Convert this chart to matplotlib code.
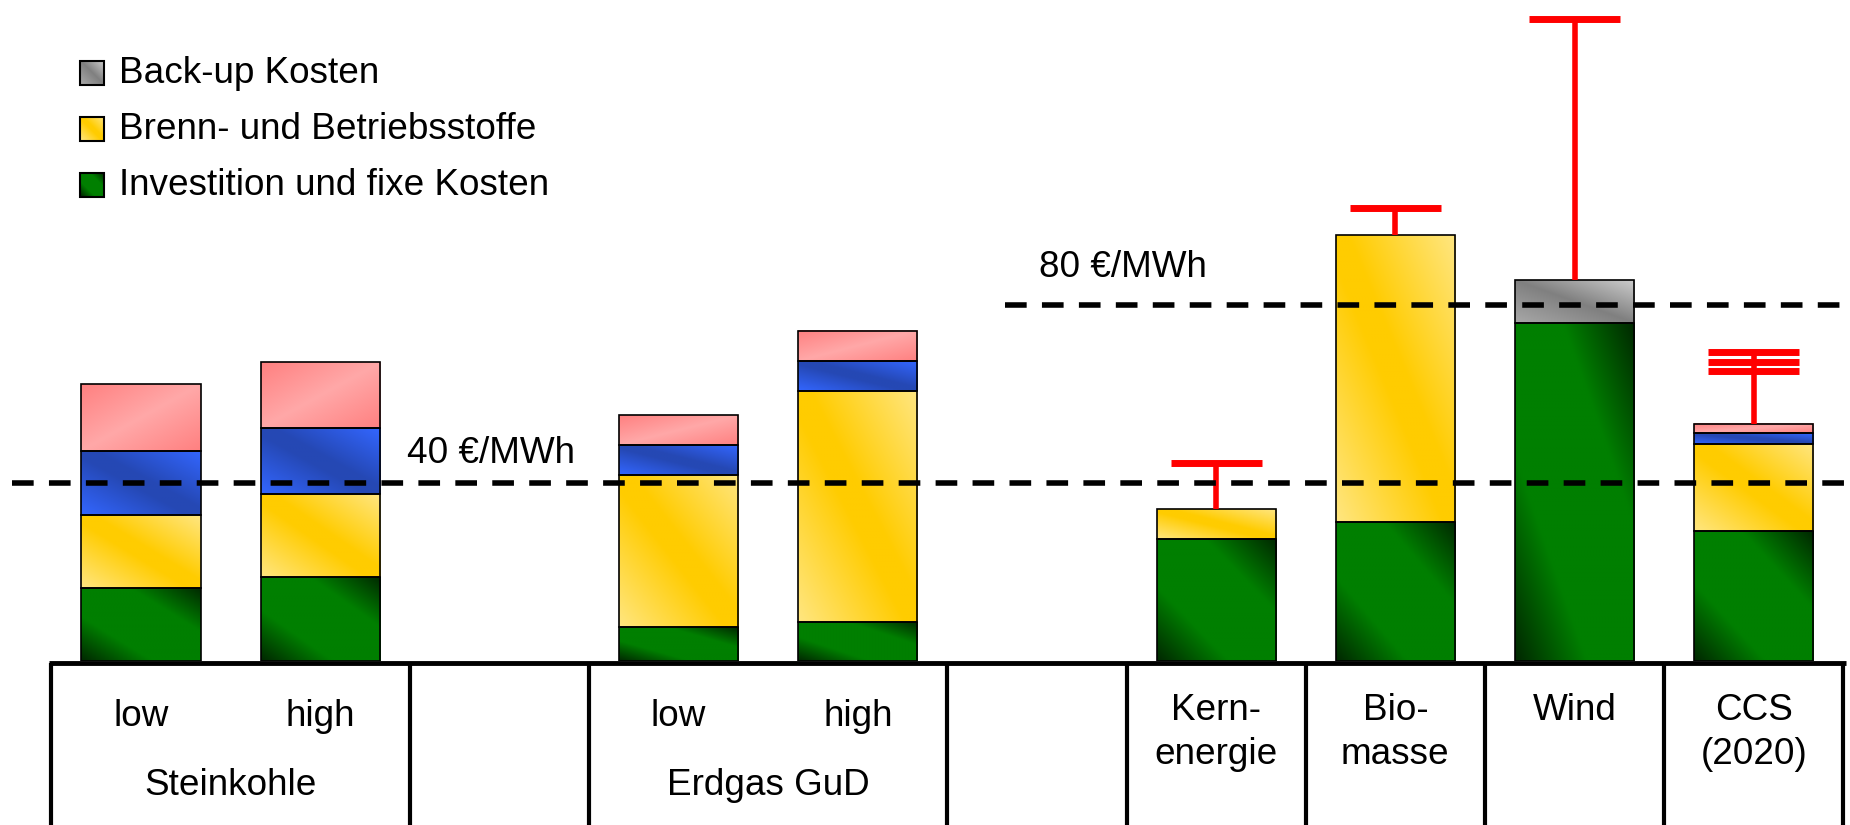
import numpy as np
import matplotlib.pyplot as plt
from matplotlib.colors import to_rgb

plt.rcParams['font.family'] = ['Liberation Sans', 'DejaVu Sans']

# Kosten in €/MWh, gestapelt von unten nach oben
bar_labels = ["low", "high", "low", "high", "Kern-\nenergie", "Bio-\nmasse", "Wind", "CCS\n(2020)"]
group_labels = ["Steinkohle", "Erdgas GuD"]
investition = [16.5, 18.9, 7.6, 8.8, 27.5, 31.3, 76.0, 29.2]
brennstoffe = [16.4, 18.6, 34.2, 51.9, 6.7, 64.4, 0.0, 19.6]
backup = [0.0, 0.0, 0.0, 0.0, 0.0, 0.0, 9.6, 0.0]
anteil_blau = [14.4, 14.8, 6.7, 6.7, 0.0, 0.0, 0.0, 2.4]
anteil_rot = [14.9, 14.8, 6.7, 6.8, 0.0, 0.0, 0.0, 2.1]
# obere Grenzen der Spannweiten (Balkenindex -> Werte)
spannweite = {4: [44.4], 5: [101.7], 6: [144.3], 7: [69.4, 67.1, 65.2]}
schwellen = [40, 80]
schwellen_text = ["40 €/MWh", "80 €/MWh"]
legend_labels = ["Back-up Kosten", "Brenn- und Betriebsstoffe", "Investition und fixe Kosten"]

# layout
slots = np.array([0, 1, 3, 4, 6, 7, 8, 9])
group_slots = [0.5, 3.5]
col_edges = [-0.5, 1.5, 2.5, 4.5, 5.5, 6.5, 7.5, 8.5, 9.5]
bar_w = 0.665
xlim = (-0.787, 9.537)
px_per_unit = 4.45
fs = 26.6

# gradient stops (position, colour) and direction per segment type
styles = {
    'gruen': ([(0, '#002800'), (0.3, '#007F00'), (0.7, '#007F00'), (1, '#002800')], 'up'),
    'gelb': ([(0, '#FFE680'), (0.45, '#FFCC00'), (0.55, '#FFCC00'), (1, '#FFE680')], 'up'),
    'grau': ([(0, '#A8A8A8'), (0.5, '#808080'), (1, '#CCCCCC')], 'up'),
    'blau': ([(0, '#3366FF'), (0.45, '#2548B4'), (0.55, '#2548B4'), (1, '#3366FF')], 'up'),
    'rot': ([(0, '#FF8080'), (0.5, '#FFA8A8'), (1, '#FF8080')], 'down'),
}


def gradient(stops, direction, n=80):
    u, v = np.meshgrid(np.linspace(0, 1, n), np.linspace(0, 1, n))
    t = (u + v) / 2 if direction == 'up' else (u + 1 - v) / 2
    pos = np.array([p for p, _ in stops])
    cols = np.array([to_rgb(c) for _, c in stops])
    return np.stack([np.interp(t, pos, cols[:, k]) for k in range(3)], axis=-1)


fig = plt.figure(figsize=(18.5, 8.25), dpi=100)
ax = fig.add_axes([0, 164 / 825, 1, 661 / 825])
ax.set_axis_off()

series = [(investition, 'gruen'), (brennstoffe, 'gelb'), (backup, 'grau'),
          (anteil_blau, 'blau'), (anteil_rot, 'rot')]
bottoms = np.zeros(len(slots))
for values, key in series:
    vals = np.array(values)
    bars = ax.bar(slots, vals, bar_w, bottom=bottoms, facecolor='none',
                  edgecolor='black', linewidth=1.2, zorder=3)
    stops, direction = styles[key]
    img = gradient(stops, direction)
    for rect, val in zip(bars, vals):
        if val <= 0:
            rect.set_visible(False)
            continue
        x0, y0 = rect.get_x(), rect.get_y()
        ax.imshow(img, extent=[x0, x0 + rect.get_width(), y0, y0 + rect.get_height()],
                  origin='lower', aspect='auto', interpolation='bilinear', zorder=2)
    bottoms += vals

# Spannweiten
cap = 0.254
for i, tops in spannweite.items():
    x = slots[i]
    ax.vlines(x, bottoms[i], max(tops), color='red', lw=4.0, zorder=4)
    ax.hlines(tops, x - cap, x + cap, color='red', lw=5, zorder=4)

# Vergleichslinien
schwellen_start = [-0.72, 4.82]
text_pos = [(1.484, 44.5), (5.01, 86.3)]
for level, start, label, (tx, ty) in zip(schwellen, schwellen_start, schwellen_text, text_pos):
    ax.hlines(level, start, xlim[1], colors='black', lw=4,
              linestyles=(0, (3.9, 2.75)), zorder=5)
    ax.text(tx, ty, label, fontsize=fs, ha='left', va='baseline')

ax.set_xlim(*xlim)
ax.set_ylim(0, 661 / px_per_unit)

# Tabelle unter den Balken (y in Pixeln, 0 = Oberkante)
tab = fig.add_axes([0, 0, 1, 164 / 825])
tab.set_axis_off()
tab.set_xlim(*xlim)
tab.set_ylim(-164, 0)
tab.hlines(-2, col_edges[0] - 0.012, col_edges[-1] + 0.012, colors='black', lw=3.5, clip_on=False)
tab.vlines(col_edges, -200, -2, colors='black', lw=3.0)

line_gap = 44
for x, label in zip(slots, bar_labels):
    lines = label.split('\n')
    base = -65 if x < 5 else -59
    for k, line in enumerate(lines):
        tab.text(x, base - k * line_gap, line, fontsize=fs, ha='center', va='baseline')
for x, label in zip(group_slots, group_labels):
    tab.text(x, -134, label, fontsize=fs, ha='center', va='baseline')

# Legende
ov = fig.add_axes([0, 0, 1, 1], zorder=10)
ov.set_axis_off()
for k, (label, key) in enumerate(zip(legend_labels, ['grau', 'gelb', 'gruen'])):
    cy = 72.5 + 56 * k
    stops, direction = styles[key]
    ov.imshow(gradient(stops, direction, 24), extent=[80, 104, cy + 12, cy - 12],
              origin='lower', aspect='auto', interpolation='bilinear')
    ov.add_patch(plt.Rectangle((80, cy - 12), 24, 24, fill=False, edgecolor='black', lw=1.5))
    ov.text(119, cy + 10.5, label, fontsize=fs, ha='left', va='baseline')
ov.set_xlim(0, 1850)
ov.set_ylim(825, 0)

fig.savefig('out.png', dpi=100)
